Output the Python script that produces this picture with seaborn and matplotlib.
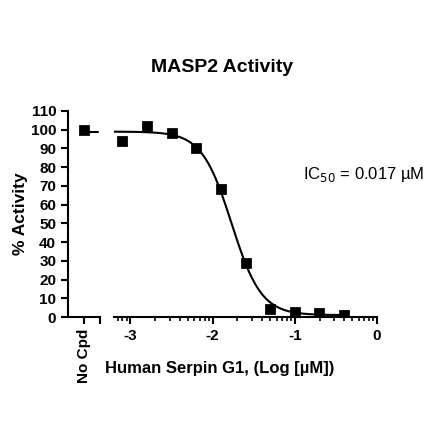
import numpy as np
import pandas as pd
import matplotlib
matplotlib.use("Agg")
import matplotlib.pyplot as plt
import seaborn as sns
from matplotlib.ticker import FixedLocator

sns.set_style("ticks")
plt.rcParams['font.family'] = ['Liberation Sans', 'DejaVu Sans']
plt.rcParams['axes.unicode_minus'] = False
plt.rcParams['text.color'] = 'black'
plt.rcParams['xtick.color'] = 'black'
plt.rcParams['ytick.color'] = 'black'
plt.rcParams['axes.labelcolor'] = 'black'
plt.rcParams['axes.edgecolor'] = 'black'

# Data
log_conc = [-3.1, -2.8, -2.5, -2.2, -1.9, -1.6, -1.3, -1.0, -0.7, -0.4]
activity = [94, 102, 98.4, 90.4, 68.4, 29, 4.3, 2.7, 2.1, 1.1]
no_cpd_value = [100]
no_cpd_label = ["No Cpd"]
# Fitted 4PL curve parameters as reported
fit_top = 99.0
fit_bottom = 1.0
fit_log_ic50 = np.log10(0.017)
fit_hill = 2.4
y_ticks = list(range(0, 111, 10))
x_ticks = [-3, -2, -1, 0]

fig = plt.figure(figsize=(4.4, 4.4), dpi=100)
W = H = 440.0
y0 = 1 - 317 / H
h = (317 - 111) / H
ax1 = fig.add_axes([68 / W, y0, 32 / W, h])
ax2 = fig.add_axes([114 / W, y0, (377 - 114) / W, h], sharey=ax1)

# Left (No Cpd) panel
df0 = pd.DataFrame({"x": [0.5], "y": no_cpd_value})
sns.scatterplot(data=df0, x="x", y="y", marker="s", s=48, color="black",
                edgecolor="black", ax=ax1, zorder=3)
sns.lineplot(x=[0.5, 0.95], y=[fit_top, fit_top], color="black", lw=1.5, ax=ax1)
ax1.set_xlim(0, 1)
ax1.set_ylim(0, 110)
ax1.set_xticks([0.5, 1.0])
ax1.set_xticklabels(no_cpd_label + [""], rotation=90, fontweight="bold", fontsize=11)
ax1.set_yticks(y_ticks)
ax1.set_yticklabels([str(v) for v in y_ticks], fontweight="bold", fontsize=11)
for s in ["top", "right"]:
    ax1.spines[s].set_visible(False)
ax1.set_xlabel("")
ax1.set_ylabel("")

# Right panel
df = pd.DataFrame({"x": log_conc, "y": activity})
xc = np.linspace(-3.2, -0.4, 300)
yc = fit_bottom + (fit_top - fit_bottom) / (1 + 10 ** ((xc - fit_log_ic50) * fit_hill))
sns.lineplot(x=xc, y=yc, color="black", lw=1.5, ax=ax2)
sns.scatterplot(data=df, x="x", y="y", marker="s", s=48, color="black",
                edgecolor="black", ax=ax2, zorder=3)
ax2.set_xlim(-3.2, 0)
ax2.set_xticks(x_ticks)
ax2.set_xticklabels([str(v) for v in x_ticks], fontweight="bold", fontsize=11)
minor = []
for d in range(-4, 0):
    for k in range(2, 10):
        v = d + np.log10(k)
        if -3.2 <= v <= 0:
            minor.append(v)
ax2.xaxis.set_minor_locator(FixedLocator(minor))
for s in ["top", "right", "left"]:
    ax2.spines[s].set_visible(False)
ax2.tick_params(axis="y", left=False, labelleft=False)
ax2.set_xlabel("")
ax2.set_ylabel("")

for ax in (ax1, ax2):
    for s in ax.spines.values():
        s.set_linewidth(1.5)
    ax.tick_params(axis="both", which="major", width=1.5, length=5, direction="out", color="black")
    ax.tick_params(axis="x", which="minor", width=1.2, length=3, direction="out", color="black")
    ax.set_facecolor("white")

fig.text(20 / W, 1 - 214 / H, "% Activity", fontsize=12.5, fontweight="bold",
         rotation=90, ha="center", va="center")
fig.text(303 / W, 1 - 174 / H, r"IC$_{50}$ = 0.017 µM", fontsize=12, ha="left", va="center")
fig.text(222 / W, 1 - 68 / H, "MASP2 Activity", fontsize=14, fontweight="bold", ha="center", va="center")
fig.text(105 / W, 1 - 368 / H, "Human Serpin G1, (Log [µM])", fontsize=12, fontweight="bold",
         ha="left", va="center")

fig.savefig("out.png", dpi=100, facecolor="white")
